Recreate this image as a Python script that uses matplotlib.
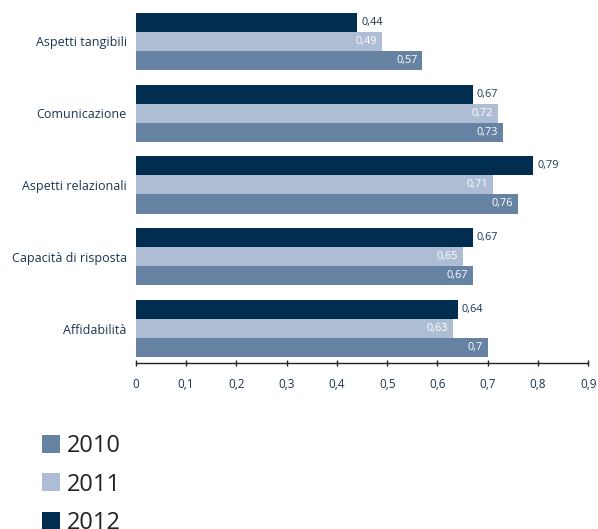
import matplotlib.pyplot as plt
import numpy as np

plt.rcParams['font.family'] = ['Open Sans', 'DejaVu Sans']

categories = ["Affidabilità", "Capacità di risposta", "Aspetti relazionali",
              "Comunicazione", "Aspetti tangibili"]
years = ["2010", "2011", "2012"]
values_2010 = [0.70, 0.67, 0.76, 0.73, 0.57]
values_2011 = [0.63, 0.65, 0.71, 0.72, 0.49]
values_2012 = [0.64, 0.67, 0.79, 0.67, 0.44]

colors = {"2010": "#6783a3", "2011": "#aebdd4", "2012": "#002d50"}
text_navy = "#1b3552"


def fmt(v):
    return ("%g" % v).replace(".", ",")


fig = plt.figure(figsize=(5.98, 5.29), dpi=100)
ax = fig.add_axes([0.2269, 0.3138, 0.7569, 0.669])

y = np.arange(len(categories))
h = 0.265
series = [("2010", values_2010, -h), ("2011", values_2011, 0), ("2012", values_2012, h)]

for year, vals, off in series:
    bars = ax.barh(y + off, vals, height=h, color=colors[year], label=year)
    for b, v in zip(bars, vals):
        yc = b.get_y() + b.get_height() / 2
        if year == "2012":
            ax.annotate(fmt(v), (v, yc), xytext=(3, 0), textcoords="offset points",
                        ha="left", va="center", fontsize=7.8, color=text_navy)
        else:
            ax.annotate(fmt(v), (v, yc), xytext=(-3.5, 0), textcoords="offset points",
                        ha="right", va="center", fontsize=7.8, color="white")

ax.set_xlim(0, 0.9)
ax.set_ylim(-0.48, 4.45)
ax.set_xticks(np.arange(0, 0.91, 0.1))
ax.set_xticklabels([fmt(round(t, 1)) for t in np.arange(0, 0.91, 0.1)])
ax.set_yticks(y)
ax.set_yticklabels(categories)

for s in ["top", "right", "left"]:
    ax.spines[s].set_visible(False)
ax.spines["bottom"].set_color("#222222")
ax.spines["bottom"].set_linewidth(1.0)
ax.tick_params(axis="x", direction="inout", length=5, width=1, color="#222222",
               labelsize=8.5, labelcolor=text_navy, pad=8.5)
ax.tick_params(axis="y", length=0, labelsize=9, labelcolor=text_navy, pad=6.5)

handles, labels = ax.get_legend_handles_labels()
fig.legend(handles, labels, loc="upper left", bbox_to_anchor=(0.05, 0.202),
           frameon=False, fontsize=17, handlelength=0.78, handleheight=0.78,
           handletextpad=0.3, labelspacing=0.62, borderpad=0, labelcolor="#222222")

fig.savefig("out.png", dpi=100)
